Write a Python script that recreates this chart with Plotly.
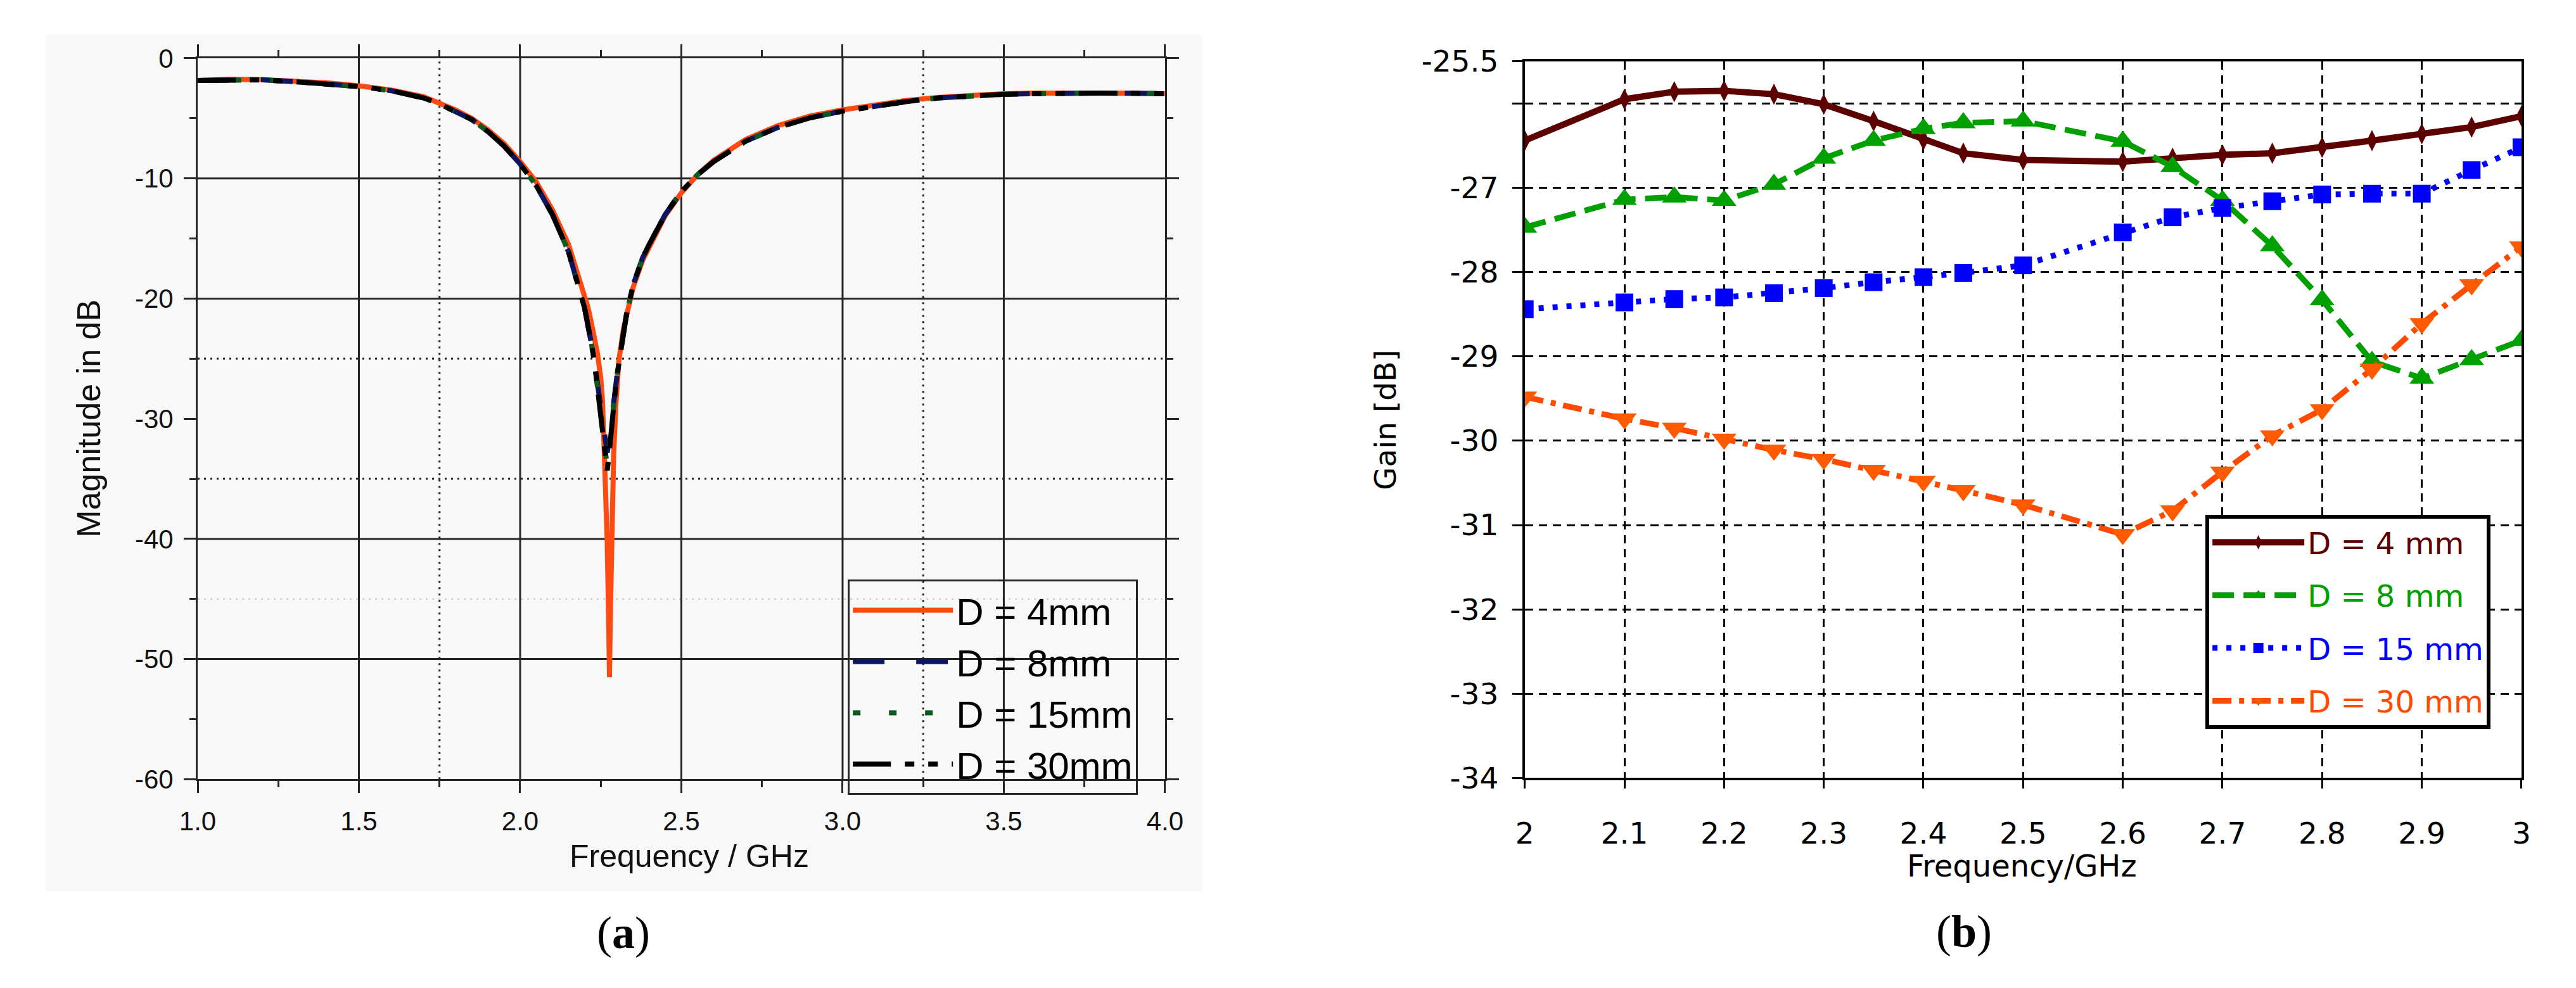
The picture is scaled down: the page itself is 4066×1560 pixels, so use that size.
import plotly.graph_objects as go

W, H = 4066, 1560

# ---------------- panel (a): S-parameter magnitude ----------------
freq_a = [1.0, 1.1, 1.2, 1.3, 1.4, 1.5, 1.6, 1.7, 1.75, 1.8, 1.85, 1.9, 1.95, 2.0,
          2.05, 2.1, 2.15, 2.2, 2.21, 2.22, 2.23, 2.24, 2.25, 2.26, 2.27, 2.275,
          2.28, 2.29, 2.30, 2.31, 2.32, 2.33, 2.35, 2.38, 2.40, 2.45, 2.50, 2.55,
          2.60, 2.70, 2.80, 2.90, 3.00, 3.10, 3.20, 3.30, 3.40, 3.50, 3.60, 3.70,
          3.80, 3.90, 4.00]
s11_30mm = [-1.85, -1.78, -1.8, -1.95, -2.1, -2.35, -2.7, -3.3, -3.8, -4.4, -5.1, -6.1, -7.3, -8.8,
            -10.6, -13.0, -16.1, -20.8, -22.0, -23.6, -25.2, -27.3, -29.6, -32.0, -34.3, -33.2,
            -31.4, -29.0, -26.5, -24.6, -22.8, -21.3, -18.9, -16.6, -15.5, -13.0, -11.1, -9.7,
            -8.6, -6.9, -5.75, -4.95, -4.4, -3.95, -3.6, -3.3, -3.1, -3.0, -2.95, -2.9,
            -2.9, -2.92, -2.95]
s11_15mm = [-1.85, -1.78, -1.8, -1.95, -2.1, -2.35, -2.7, -3.3, -3.8, -4.4, -5.1, -6.1, -7.3, -8.8,
            -10.6, -13.0, -16.1, -20.8, -22.0, -23.6, -25.2, -27.3, -29.5, -31.8, -34.0, -32.6,
            -31.2, -29.0, -26.5, -24.6, -22.8, -21.3, -18.9, -16.6, -15.5, -13.0, -11.1, -9.7,
            -8.6, -6.9, -5.75, -4.95, -4.4, -3.95, -3.6, -3.3, -3.1, -3.0, -2.95, -2.9,
            -2.9, -2.92, -2.95]
s11_8mm = [-1.85, -1.78, -1.8, -1.95, -2.1, -2.35, -2.7, -3.3, -3.8, -4.4, -5.1, -6.1, -7.3, -8.8,
           -10.6, -13.0, -16.1, -20.8, -22.0, -23.6, -25.2, -27.3, -29.4, -31.5, -32.8, -32.0,
           -30.8, -28.9, -26.5, -24.6, -22.8, -21.3, -18.9, -16.6, -15.5, -13.0, -11.1, -9.7,
           -8.6, -6.9, -5.75, -4.95, -4.4, -3.95, -3.6, -3.3, -3.1, -3.0, -2.95, -2.9,
           -2.9, -2.92, -2.95]
freq_a_4mm = [1.0, 1.1, 1.2, 1.3, 1.4, 1.5, 1.6, 1.7, 1.75, 1.8, 1.85, 1.9, 1.95, 2.0,
              2.05, 2.1, 2.15, 2.2, 2.21, 2.22, 2.23, 2.24, 2.25, 2.255, 2.26, 2.265, 2.27,
              2.275, 2.277, 2.28, 2.284, 2.29, 2.297, 2.306, 2.32, 2.33, 2.35, 2.38, 2.40,
              2.45, 2.50, 2.55, 2.60, 2.70, 2.80, 2.90, 3.00, 3.10, 3.20, 3.30, 3.40, 3.50,
              3.60, 3.70, 3.80, 3.90, 4.00]
s11_4mm = [-1.85, -1.75, -1.78, -1.9, -2.05, -2.3, -2.65, -3.2, -3.7, -4.3, -5.0, -5.95, -7.1, -8.6,
           -10.3, -12.6, -15.5, -19.6, -20.7, -21.9, -23.2, -24.6, -26.6, -28.3, -32.0, -35.8, -40.2,
           -47.5, -51.5, -46.0, -37.5, -33.0, -28.8, -25.2, -22.6, -21.3, -19.1, -16.8, -15.7,
           -13.1, -11.2, -9.7, -8.5, -6.75, -5.6, -4.8, -4.3, -3.85, -3.5, -3.25, -3.05, -2.95,
           -2.9, -2.88, -2.88, -2.9, -2.95]
names_a = ["D = 4mm", "D = 8mm", "D = 15mm", "D = 30mm"]
xticks_a = [1.0, 1.5, 2.0, 2.5, 3.0, 3.5, 4.0]
xticklabels_a = ["1.0", "1.5", "2.0", "2.5", "3.0", "3.5", "4.0"]
xminor_a = [1.25, 1.75, 2.25, 2.75, 3.25, 3.75]
yticks_a = [0, -10, -20, -30, -40, -50, -60]
yticklabels_a = ["0", "-10", "-20", "-30", "-40", "-50", "-60"]
yminor_a = [-5, -15, -25, -35, -45, -55]
grid_solid_x_a = [1.5, 2.0, 2.5, 3.0, 3.5]
grid_dot_x_a = [1.75, 3.25]
grid_solid_y_a = [-10, -20, -40, -50]
grid_dot_y_a = [-25, -35]
grid_faint_y_a = [-45]

# ---------------- panel (b): gain ----------------
freq_b = [2.0, 2.1, 2.15, 2.2, 2.25, 2.3, 2.35, 2.4, 2.44, 2.5, 2.6, 2.65, 2.7, 2.75,
          2.8, 2.85, 2.9, 2.95, 3.0]
gain_4mm = [-26.44, -25.95, -25.86, -25.85, -25.89, -26.01, -26.21, -26.43, -26.59, -26.67,
            -26.69, -26.65, -26.61, -26.59, -26.52, -26.44, -26.36, -26.28, -26.15]
gain_8mm = [-27.47, -27.14, -27.11, -27.15, -26.96, -26.65, -26.44, -26.30, -26.23, -26.21,
            -26.45, -26.75, -27.15, -27.69, -28.33, -29.06, -29.26, -29.04, -28.81]
gain_15mm = [-28.44, -28.36, -28.32, -28.30, -28.25, -28.19, -28.12, -28.06, -28.01, -27.92,
             -27.53, -27.35, -27.24, -27.16, -27.08, -27.07, -27.07, -26.79, -26.52]
gain_30mm = [-29.48, -29.74, -29.85, -29.98, -30.11, -30.22, -30.35, -30.48, -30.59, -30.76,
             -31.11, -30.83, -30.37, -29.94, -29.63, -29.15, -28.61, -28.15, -27.70]
names_b = ["D = 4 mm", "D = 8 mm", "D = 15 mm", "D = 30 mm"]
xticks_b = [2.0, 2.1, 2.2, 2.3, 2.4, 2.5, 2.6, 2.7, 2.8, 2.9, 3.0]
xticklabels_b = ["2", "2.1", "2.2", "2.3", "2.4", "2.5", "2.6", "2.7", "2.8", "2.9", "3"]
yticks_b = [-34, -33, -32, -31, -30, -29, -28, -27, -26, -25.5]
yticklabels_b = ["-34", "-33", "-32", "-31", "-30", "-29", "-28", "-27", "", "-25.5"]


def px(x):
    return x / W


def py(y):
    return 1 - y / H


FA = "Liberation Sans, Arial, sans-serif"
FB = "DejaVu Sans, Verdana, sans-serif"
GRID = "#262626"

fig = go.Figure()

# ---- panel (a) traces ----
style_a = [
    dict(color="#FF4A12", width=8, dash="solid"),
    dict(color="#0B1560", width=8, dash="50px,50px"),
    dict(color="#0C5A1E", width=8, dash="12px,45px"),
    dict(color="#000000", width=8, dash="60px,22px,15px,22px,15px,22px"),
]
series_a = [(freq_a_4mm, s11_4mm), (freq_a, s11_8mm), (freq_a, s11_15mm), (freq_a, s11_30mm)]
for i, ((fx, fy), st, nm) in enumerate(zip(series_a, style_a, names_a)):
    fig.add_trace(go.Scatter(x=fx, y=fy, mode="lines", name=nm, line=st,
                             xaxis="x", yaxis="y", legend="legend",
                             legendgroup="a%d" % i))

# ---- panel (b) traces ----
cols_b = ["#5C0000", "#00A000", "#0000FF", "#FF4A00"]
style_b = [
    dict(line=dict(color=cols_b[0], width=10, dash="solid"),
         marker=dict(symbol="diamond-tall", size=24, color=cols_b[0])),
    dict(line=dict(color=cols_b[1], width=9, dash="34px,15px"),
         marker=dict(symbol="triangle-up", size=34, color=cols_b[1])),
    dict(line=dict(color=cols_b[2], width=9, dash="8px,14px"),
         marker=dict(symbol="square", size=28, color=cols_b[2])),
    dict(line=dict(color=cols_b[3], width=9, dash="30px,12px,8px,12px"),
         marker=dict(symbol="triangle-down", size=34, color="#FF5A00")),
]
series_b = [gain_4mm, gain_8mm, gain_15mm, gain_30mm]
for i, (gy, st, nm, c) in enumerate(zip(series_b, style_b, names_b, cols_b)):
    fig.add_trace(go.Scatter(x=freq_b, y=gy, mode="lines+markers",
                             name='<span style="color:%s">%s</span>' % (c, nm),
                             line=st["line"], marker=st["marker"],
                             xaxis="x2", yaxis="y2", legend="legend2",
                             legendgroup="b%d" % i))

# ---- shapes: panel (a) background and grid ----
shapes = [dict(type="rect", xref="paper", yref="paper", x0=px(36), x1=px(1888),
               y0=py(1421), y1=py(20), fillcolor="#F9F8F8", line=dict(width=0),
               layer="below")]
for v in grid_solid_y_a:
    shapes.append(dict(type="line", xref="x domain", yref="y", x0=0, x1=1, y0=v, y1=v,
                       line=dict(color=GRID, width=3), layer="below"))
for v in grid_dot_y_a:
    shapes.append(dict(type="line", xref="x domain", yref="y", x0=0, x1=1, y0=v, y1=v,
                       line=dict(color=GRID, width=3, dash="3px,7px"), layer="below"))
for v in grid_faint_y_a:
    shapes.append(dict(type="line", xref="x domain", yref="y", x0=0, x1=1, y0=v, y1=v,
                       line=dict(color="#C8C8C8", width=2, dash="3px,7px"), layer="below"))
for v in grid_solid_x_a:
    shapes.append(dict(type="line", xref="x", yref="y domain", x0=v, x1=v, y0=0, y1=1,
                       line=dict(color=GRID, width=3), layer="below"))
for v in grid_dot_x_a:
    shapes.append(dict(type="line", xref="x", yref="y domain", x0=v, x1=v, y0=0, y1=1,
                       line=dict(color=GRID, width=3, dash="3px,7px"), layer="below"))

axis_a = dict(showline=True, linecolor=GRID, linewidth=3, mirror="ticks",
              ticks="outside", ticklen=19, tickwidth=3, tickcolor=GRID,
              showgrid=False, zeroline=False,
              tickfont=dict(family=FA, size=42, color="#111"))
axis_b = dict(showline=True, linecolor="black", linewidth=4, mirror=True,
              ticks="outside", tickwidth=3, tickcolor="black",
              showgrid=True, gridcolor="black", gridwidth=3, griddash="13px,9px",
              zeroline=False, tickfont=dict(family=FB, size=47, color="black"))

annotations = [
    dict(text="Magnitude in dB", x=px(105), y=py(648), textangle=-90,
         font=dict(family=FA, size=52, color="#111")),
    dict(text="Frequency / GHz", x=px(1066), y=py(1364),
         font=dict(family=FA, size=50, color="#111")),
    dict(text="Gain [dB]", x=px(2180), y=py(650), textangle=-90,
         font=dict(family=FB, size=47, color="black")),
    dict(text="Frequency/GHz", x=px(3200), y=py(1380),
         font=dict(family=FB, size=48, color="black")),
    dict(text="(<b>a</b>)", x=px(961), y=py(1489),
         font=dict(family="Liberation Serif, serif", size=72, color="black")),
    dict(text="(<b>b</b>)", x=px(3107), y=py(1487),
         font=dict(family="Liberation Serif, serif", size=72, color="black")),
]
for a in annotations:
    a.update(xref="paper", yref="paper", showarrow=False, xanchor="center", yanchor="middle")

fig.update_layout(
    width=W, height=H, margin=dict(l=0, r=0, t=0, b=0),
    paper_bgcolor="white", plot_bgcolor="rgba(0,0,0,0)",
    showlegend=True,
    xaxis=dict(axis_a, domain=[px(279), px(1828)], range=[1, 4], anchor="y",
               tickmode="array", tickvals=xticks_a, ticktext=xticklabels_a,
               ticklabelstandoff=8,
               minor=dict(tickmode="array", tickvals=xminor_a, ticks="outside",
                          ticklen=10, tickwidth=3, tickcolor=GRID, showgrid=False)),
    yaxis=dict(axis_a, domain=[py(1238), py(58)], range=[-60, 0], anchor="x",
               tickmode="array", tickvals=yticks_a, ticktext=yticklabels_a,
               ticklabelstandoff=8,
               minor=dict(tickmode="array", tickvals=yminor_a, ticks="outside",
                          ticklen=10, tickwidth=3, tickcolor=GRID, showgrid=False)),
    xaxis2=dict(axis_b, domain=[px(2404), px(4000)], range=[2, 3], anchor="y2",
                tickmode="array", tickvals=xticks_b, ticktext=xticklabels_b,
                ticklen=13, ticklabelstandoff=30),
    yaxis2=dict(axis_b, domain=[py(1236), py(63)], range=[-34, -25.5], anchor="x2",
                tickmode="array", tickvals=yticks_b, ticktext=yticklabels_b,
                ticklen=16, ticklabelstandoff=12),
    legend=dict(x=px(1320), y=py(911), xanchor="left", yanchor="top",
                bgcolor="rgba(0,0,0,0)", bordercolor=GRID, borderwidth=3,
                font=dict(family=FA, size=60, color="black"),
                itemwidth=158, tracegroupgap=0, traceorder="grouped"),
    legend2=dict(x=px(3494), y=py(805), xanchor="left", yanchor="top",
                 bgcolor="white", bordercolor="black", borderwidth=6,
                 font=dict(family=FB, size=48, color="black"),
                 itemwidth=145, tracegroupgap=18, traceorder="grouped"),
    shapes=shapes,
    annotations=annotations,
)

fig.write_html("out.html")
